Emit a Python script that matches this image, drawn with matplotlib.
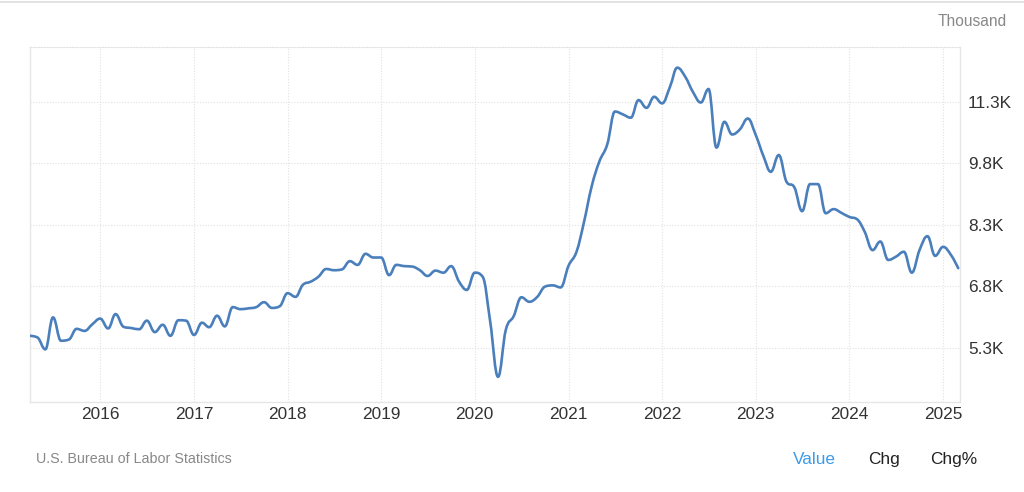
import numpy as np
import pandas as pd
import matplotlib
matplotlib.use("Agg")
import matplotlib.pyplot as plt
import matplotlib.dates as mdates
from matplotlib.path import Path
from matplotlib.patches import PathPatch

plt.rcParams['font.family'] = ['Liberation Sans', 'DejaVu Sans']

# US job openings, thousands (monthly, Apr 2015 - Mar 2025)
months = pd.date_range("2015-04-01", "2025-03-01", freq="MS")
openings = [
    5.59, 5.55, 5.26, 6.04, 5.47, 5.50, 5.76, 5.71, 5.87,                    # 2015
    6.01, 5.77, 6.12, 5.81, 5.78, 5.75, 5.96, 5.68, 5.86, 5.59, 5.97, 5.96,  # 2016
    5.61, 5.91, 5.80, 6.08, 5.82, 6.29, 6.24, 6.26, 6.29, 6.41, 6.27, 6.31,  # 2017
    6.63, 6.54, 6.83, 6.91, 7.03, 7.22, 7.19, 7.21, 7.41, 7.32, 7.59, 7.50,  # 2018
    7.50, 7.07, 7.32, 7.29, 7.28, 7.19, 7.05, 7.18, 7.13, 7.29, 6.91, 6.71,  # 2019
    7.13, 7.03, 5.95, 4.59, 5.73, 6.07, 6.53, 6.42, 6.54, 6.79, 6.82, 6.77,  # 2020
    7.30, 7.64, 8.33, 9.23, 9.84, 10.26, 11.06, 10.99, 10.91, 11.34, 11.15, 11.42,  # 2021
    11.26, 11.67, 12.13, 11.91, 11.54, 11.28, 11.61, 10.18, 10.81, 10.50, 10.63, 10.89,  # 2022
    10.49, 9.96, 9.59, 10.00, 9.35, 9.21, 8.63, 9.29, 9.29, 8.58, 8.68, 8.59,  # 2023
    8.49, 8.43, 8.13, 7.68, 7.89, 7.44, 7.52, 7.64, 7.13, 7.68, 8.02, 7.54,  # 2024
    7.76, 7.56, 7.24,                                                          # 2025
]
yticks = [5.3, 6.8, 8.3, 9.8, 11.3]
ytick_labels = ["5.3K", "6.8K", "8.3K", "9.8K", "11.3K"]


def spline_path(x, y):
    # spline through the points like the web chart draws it (bezier segments)
    x = np.asarray(x, dtype=float)
    y = np.asarray(y, dtype=float)
    n = len(x)
    lc = np.column_stack([x, y]).copy()
    rc = np.column_stack([x, y]).copy()
    s = 1.5
    d = s + 1
    for i in range(1, n - 1):
        px, py = x[i], y[i]
        lx, ly = x[i - 1], y[i - 1]
        nx, ny = x[i + 1], y[i + 1]
        lcx, lcy = (s * px + lx) / d, (s * py + ly) / d
        rcx, rcy = (s * px + nx) / d, (s * py + ny) / d
        corr = (rcy - lcy) * (rcx - px) / (rcx - lcx) + py - rcy
        lcy += corr
        rcy += corr
        if lcy > ly and lcy > py:
            lcy = max(ly, py); rcy = 2 * py - lcy
        elif lcy < ly and lcy < py:
            lcy = min(ly, py); rcy = 2 * py - lcy
        if rcy > ny and rcy > py:
            rcy = max(ny, py); lcy = 2 * py - rcy
        elif rcy < ny and rcy < py:
            rcy = min(ny, py); lcy = 2 * py - rcy
        lc[i] = (lcx, lcy)
        rc[i] = (rcx, rcy)
    verts = [(x[0], y[0])]
    codes = [Path.MOVETO]
    for i in range(1, n):
        verts += [tuple(rc[i - 1]), tuple(lc[i]), (x[i], y[i])]
        codes += [Path.CURVE4] * 3
    return Path(np.array(verts), codes)


xd = mdates.date2num(months)

fig = plt.figure(figsize=(10.24, 4.92), dpi=100)
ax = fig.add_axes([29.7 / 1024, 1 - 401.7 / 492, (959.5 - 29.7) / 1024, (401.7 - 47.3) / 492])

ax.add_patch(PathPatch(spline_path(xd, openings), facecolor='none',
                       edgecolor='#4a7fbc', linewidth=1.9, capstyle='round',
                       joinstyle='round', zorder=3))

ax.set_xlim(xd[0], mdates.date2num(pd.Timestamp("2025-03-06")))
ax.set_ylim(3.983, 12.627)

ax.xaxis.set_major_locator(mdates.YearLocator())
ax.xaxis.set_major_formatter(mdates.DateFormatter("%Y"))
ax.set_yticks(yticks)
ax.set_yticklabels(ytick_labels)
ax.yaxis.tick_right()
ax.tick_params(axis='y', length=0, pad=6, labelsize=12.4, labelcolor='#333333')
ax.tick_params(axis='x', length=0, pad=4, labelsize=12.4, labelcolor='#333333')

ax.grid(True, color='#e2e2e2', linestyle=(0, (1, 1.5)), linewidth=0.8)
for side in ['left', 'bottom', 'right']:
    ax.spines[side].set_color('#e6e6e6')
    ax.spines[side].set_linewidth(1.0)
ax.spines['top'].set_color('#e2e2e2')
ax.spines['top'].set_linestyle((0, (1, 1.5)))
ax.spines['top'].set_linewidth(0.8)

# thin rule along the top of the picture
fig.add_artist(plt.Line2D([0, 1], [1 - 1.5 / 492, 1 - 1.5 / 492], color='#dddddd', linewidth=1.2))

fig.text(1007 / 1024, 1 - 22 / 492, "Thousand", ha='right', va='center', fontsize=11.2, color='#888888')
fig.text(36 / 1024, 1 - 463 / 492, "U.S. Bureau of Labor Statistics", ha='left', va='baseline',
         fontsize=10.3, color='#888888')
fig.text(792.7 / 1024, 1 - 464 / 492, "Value", ha='left', va='baseline', fontsize=12.4, color='#3d9be9')
fig.text(868.3 / 1024, 1 - 464 / 492, "Chg", ha='left', va='baseline', fontsize=12.4, color='#222222')
fig.text(930 / 1024, 1 - 464 / 492, "Chg%", ha='left', va='baseline', fontsize=12.4, color='#222222')

fig.savefig("out.png", dpi=100, facecolor='white')
